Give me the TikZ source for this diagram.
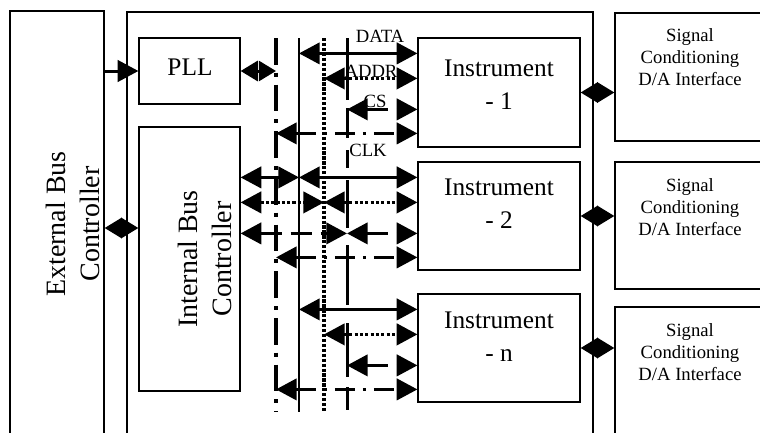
\documentclass[tikz,border=0pt]{standalone}
\usepackage{fontspec}
\setmainfont{Liberation Serif}
\usetikzlibrary{arrows.meta,fit,calc}
\begin{document}
\begin{tikzpicture}[x=0.75pt,y=-0.75pt,
  box/.style={draw, line width=0.9pt, inner sep=0pt, fit={#1}},
  bigtxt/.style={font=\fontsize{21}{25.5}\selectfont, align=center, inner sep=0pt},
  midtxt/.style={font=\fontsize{19}{24.75}\selectfont, align=center, inner sep=0pt},
  smalltxt/.style={font=\fontsize{14}{16.5}\selectfont, align=center, inner sep=0pt},
  lbl/.style={font=\fontsize{14}{16}\selectfont, inner sep=0pt},
  >={Triangle[length=15.5pt,width=16pt]},
  dline/.style={line width=2.25pt, <->},
  aline/.style={line width=2.4pt, <->, dash pattern=on 2.4pt off 1.6pt},
  cline/.style={line width=2.25pt, <->, dash pattern=on 15.75pt off 6.75pt},
  kline/.style={line width=2.25pt, <->, dash pattern=on 15pt off 6pt on 2.25pt off 6pt},
  kbus/.style={line width=2.4pt, dash pattern=on 20pt off 6pt on 3pt off 6pt},
  dbus/.style={line width=1.9pt},
  abus/.style={line width=3.2pt, dash pattern=on 2.4pt off 1.3pt},
  cbus/.style={line width=2.25pt},
  dia/.style={line width=2.25pt, {Triangle[length=12.9pt,width=15pt]}-{Triangle[length=12.9pt,width=15pt]}},
  feed/.style={line width=2.25pt, ->}
]
\useasboundingbox (0,0) rectangle (760,432);
\clip (0,0) rectangle (760,432);

% boxes
\node[box={(10,11) (104,445)}] (ext) {};
\node[box={(127,12) (593,445)}] (main) {};
\node[box={(139,38) (240,104)}] (pll) {};
\node[box={(139,127) (240,391)}] (ibc) {};
\node[box={(418,38) (580,147)}] (ins1) {};
\node[box={(418,162) (580,270)}] (ins2) {};
\node[box={(418,294) (580,402)}] (ins3) {};
\node[box={(615,13) (775,141)}] (sig1) {};
\node[box={(615,162) (775,289)}] (sig2) {};
\node[box={(615,307) (775,445)}] (sig3) {};

% texts
\node[bigtxt, rotate=90] (extT) at (73,224) {External Bus\\Controller};
\node[bigtxt, rotate=90] (ibcT) at (205,259) {Internal Bus\\Controller};
\node[midtxt] (pllT) at (190,67) {PLL};
\node[midtxt] (ins1T) at (499,84.5) {Instrument\\- 1};
\node[midtxt] (ins2T) at (499,204) {Instrument\\- 2};
\node[midtxt] (ins3T) at (499,337) {Instrument\\- n};
\node[smalltxt] (sig1T) at (690,57.5) {Signal\\Conditioning\\D/A Interface};
\node[smalltxt] (sig2T) at (690,207) {Signal\\Conditioning\\D/A Interface};
\node[smalltxt] (sig3T) at (690,352) {Signal\\Conditioning\\D/A Interface};

% bus coordinates
\coordinate (kTop) at (276,38); \coordinate (kBot) at (276,412);
\coordinate (dTop) at (299,38); \coordinate (dBot) at (299,412);
\coordinate (aTop) at (324,38); \coordinate (aBot) at (324,412);
\coordinate (cTop) at (347,38); \coordinate (cBot) at (347,410);

% buses
\draw[kbus] (kTop) -- (kBot);
\draw[dbus] (dTop) -- (dBot);
\draw[abus] (aTop) -- (aBot);
\draw[cbus] (cTop) -- (347,100) (347,108) -- (347,138) (347,150) -- (347,168)
  (347,180) -- (347,228) (347,245) -- (347,305) (347,323) -- (347,377) (347,387) -- (cBot);

% row coordinates
\foreach \i in {1,2,3}{
  \path (ins\i.north west) ++(0,16) coordinate (i\i d) ++(0,25) coordinate (i\i a)
        ++(0,31) coordinate (i\i c) ++(0,24) coordinate (i\i k);
}

% bus to instruments
\foreach \i in {1,2,3}{
  \draw[dline] (dTop |- i\i d) -- (i\i d);
  \draw[aline] (aTop |- i\i a) -- (i\i a);
  \draw[cline] (cTop |- i\i c) -- (i\i c);
  \draw[kline] (kTop |- i\i k) -- (i\i k);
}

% internal bus controller to buses
\draw[dline] (ibc.east |- i2d) -- (dTop |- i2d);
\draw[aline] (ibc.east |- i2a) -- (aTop |- i2a);
\draw[cline] (ibc.east |- i2c) -- (cTop |- i2c);

% diamonds
\draw[dia] (ins1.east) -- (sig1.west |- ins1.east);
\draw[dia] (ins2.east) -- (sig2.west |- ins2.east);
\draw[dia] (ins3.east) -- (sig3.west |- ins3.east);
\draw[dia] (pll.east) -- (kTop |- pll.east);
\draw[dia] (ext.east) -- (ibc.west |- ext.east);
\draw[feed] (ext.east |- pll.west) -- (pll.west);

% labels
\node[lbl] (lData) at (380,36) {DATA};
\node[lbl] (lAddr) at (371,71) {ADDR};
\node[lbl] (lCs) at (375,101) {CS};
\node[lbl] (lClk) at (368,150) {CLK};
\end{tikzpicture}
\end{document}
